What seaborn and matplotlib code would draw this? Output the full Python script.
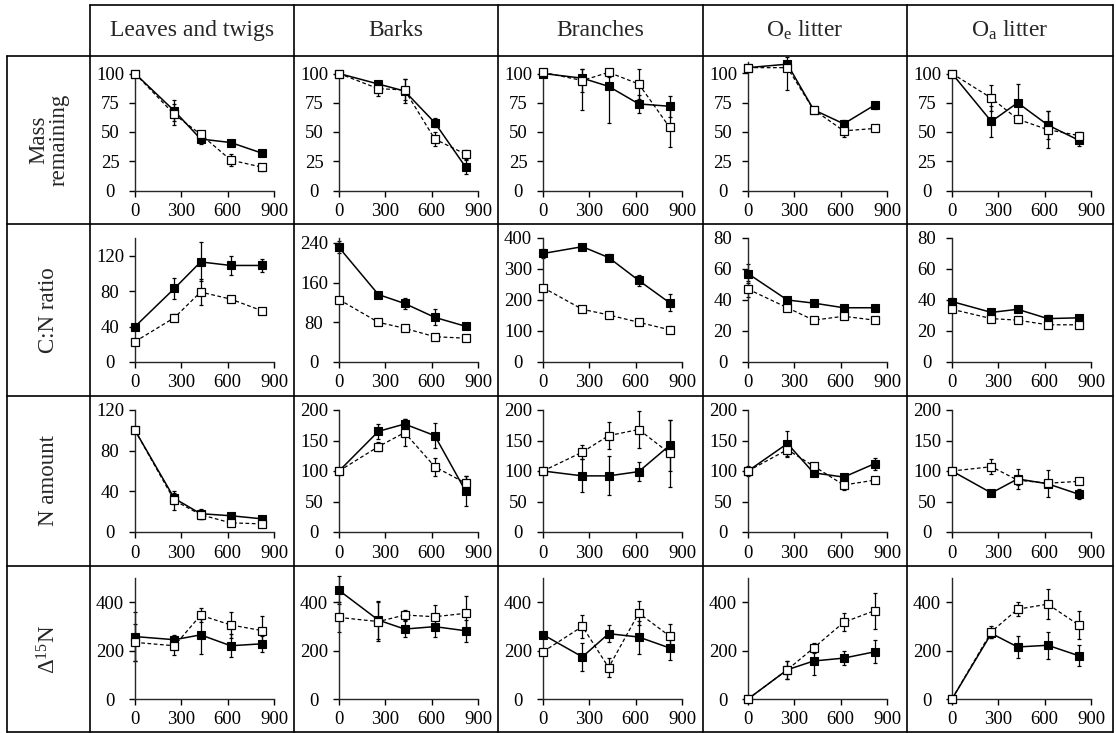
import numpy as np
import pandas as pd
import matplotlib
matplotlib.use("Agg")
import matplotlib.pyplot as plt
import seaborn as sns
from matplotlib.lines import Line2D

# ---------------- data ----------------
days = [0, 255, 425, 620, 820]
column_titles = ["Leaves and twigs", "Barks", "Branches",
                 "O$_{e}$ litter", "O$_{a}$ litter"]
row_titles = ["Mass\nremaining", "C:N ratio", "N amount", "Δ$^{15}$N"]

# Mass remaining (%)
mass_filled = [[100, 68, 44, 41, 32], [100, 91, 85, 58, 20], [100, 96, 89, 74, 72],
               [105, 108, 69, 57, 73], [100, 59, 75, 56, 43]]
mass_filled_se = [[0, 9, 4, 2, 2], [0, 3, 10, 4, 6], [0, 12, 31, 8, 9],
                  [0, 3, 2, 3, 3], [0, 13, 16, 12, 5]]
mass_open = [[100, 65, 48, 26, 20], [100, 87, 86, 44, 31], [101, 94, 101, 91, 54],
             [105, 105, 69, 51, 53], [100, 79, 61, 52, 47]]
mass_open_se = [[0, 9, 3, 5, 3], [0, 6, 9, 6, 4], [0, 25, 4, 13, 17],
                [0, 19, 2, 5, 2], [0, 11, 3, 16, 3]]

# C:N ratio
cn_filled = [[40, 83, 113, 109, 109], [231, 136, 118, 90, 72], [350, 372, 337, 263, 191],
             [57, 40, 38, 35, 35], [39, 32, 34, 28, 28.5]]
cn_filled_se = [[3, 12, 22, 11, 7], [12, 5, 12, 16, 5], [15, 5, 12, 18, 28],
                [6, 2, 2, 2, 2], [2, 2, 2, 2, 2]]
cn_open = [[23, 50, 79, 71, 58], [126, 80, 68, 51, 48], [240, 170, 152, 128, 104],
           [47, 35, 27, 29.5, 27], [34, 28, 27, 24, 24]]
cn_open_se = [[2, 4, 15, 3, 2], [3, 4, 4, 3, 3], [5, 5, 5, 5, 12],
              [5, 2, 2, 2, 1], [2, 2, 2, 2, 1]]

# N amount (%)
n_filled = [[100, 33, 18, 16, 13], [100, 165, 177, 158, 67], [100, 92, 92, 99, 142],
            [100, 145, 97, 90, 112], [100, 64, 87, 79, 62]]
n_filled_se = [[0, 5, 5, 2, 2], [0, 12, 9, 20, 24], [0, 27, 32, 15, 42],
               [8, 20, 3, 5, 10], [0, 4, 17, 22, 8]]
n_open = [[100, 31, 17, 9, 8], [100, 140, 163, 107, 80], [100, 131, 158, 168, 129],
          [100, 135, 108, 77, 85], [100, 107, 85, 80, 83]]
n_open_se = [[0, 9, 4, 2, 2], [0, 8, 22, 15, 12], [0, 12, 22, 30, 55],
             [5, 12, 3, 8, 5], [0, 12, 8, 5, 3]]

# Delta 15N
d15n_filled = [[258, 245, 265, 220, 228], [449, 326, 289, 299, 282], [266, 174, 270, 256, 211],
               [0, 121, 157, 169, 195], [0, 271, 215, 222, 179]]
d15n_filled_se = [[100, 20, 80, 47, 34], [58, 80, 32, 42, 45], [10, 58, 34, 68, 51],
                  [0, 38, 56, 30, 48], [0, 20, 47, 55, 44]]
d15n_open = [[234, 220, 346, 306, 283], [337, 320, 347, 340, 354], [195, 300, 130, 355, 260],
             [0, 121, 211, 317, 365], [0, 278, 371, 392, 306]]
d15n_open_se = [[75, 40, 28, 55, 58], [62, 80, 20, 50, 71], [10, 48, 38, 48, 51],
                [0, 38, 21, 37, 75], [0, 25, 29, 62, 59]]

y_ticks = [
    [[0, 25, 50, 75, 100]] * 5,
    [[0, 40, 80, 120], [0, 80, 160, 240], [0, 100, 200, 300, 400], [0, 20, 40, 60, 80], [0, 20, 40, 60, 80]],
    [[0, 40, 80, 120]] + [[0, 50, 100, 150, 200]] * 4,
    [[0, 200, 400]] * 5,
]
y_top = [
    [100, 100, 100, 110, 100],
    [140, 250, 400, 80, 80],
    [120, 200, 200, 200, 200],
    [500, 500, 500, 500, 500],
]
x_ticks = [0, 300, 600, 900]

rows_data = [
    (mass_filled, mass_filled_se, mass_open, mass_open_se),
    (cn_filled, cn_filled_se, cn_open, cn_open_se),
    (n_filled, n_filled_se, n_open, n_open_se),
    (d15n_filled, d15n_filled_se, d15n_open, d15n_open_se),
]

# ---------------- style ----------------
sns.set_style("ticks")
plt.rcParams["font.family"] = ["Liberation Serif", "DejaVu Serif"]
plt.rcParams["mathtext.default"] = "regular"
plt.rcParams["axes.linewidth"] = 1.0

W, H = 1116, 733
fig = plt.figure(figsize=(W / 100, H / 100), dpi=100)
fig.patch.set_facecolor("white")

def fx(px):
    return px / W

def fy(py):
    return 1 - py / H

# table geometry (pixels)
col_edges = [90, 294, 498, 703, 907, 1113]
row_edges = [5, 56, 224, 396, 566, 732]
label_left = 7
row_zero_px = [190.5, 362, 532, 699]
row_h_px = [117, 124, 122, 121]

# table lines
lw_tab = 1.2
for x in col_edges:
    fig.add_artist(Line2D([fx(x), fx(x)], [fy(row_edges[0]), fy(row_edges[-1])],
                          color="black", lw=lw_tab))
fig.add_artist(Line2D([fx(label_left), fx(label_left)], [fy(row_edges[1]), fy(row_edges[-1])],
                      color="black", lw=lw_tab))
fig.add_artist(Line2D([fx(col_edges[0]), fx(col_edges[-1])], [fy(row_edges[0]), fy(row_edges[0])],
                      color="black", lw=lw_tab))
for y in row_edges[1:]:
    fig.add_artist(Line2D([fx(label_left), fx(col_edges[-1])], [fy(y), fy(y)],
                          color="black", lw=lw_tab))

# headers
for c, title in enumerate(column_titles):
    xc = (col_edges[c] + col_edges[c + 1]) / 2
    fig.text(fx(xc), fy((row_edges[0] + row_edges[1]) / 2), title,
             ha="center", va="center", fontsize=17)
for r, title in enumerate(row_titles):
    yc = (row_edges[r + 1] + row_edges[r + 2]) / 2
    fig.text(fx((label_left + col_edges[0]) / 2), fy(yc), title, rotation=90,
             ha="center", va="center", fontsize=16.5, linespacing=0.95)

def add_errorbars(ax, mean, se, top):
    mean = np.asarray(mean, float)
    se = np.asarray(se, float)
    lower = np.clip(mean - se, 0, None)
    upper = np.minimum(mean + se, top * 1.04)
    yerr = [mean - lower, np.maximum(upper - mean, 0)]
    eb = ax.errorbar(days, mean, yerr=yerr, fmt="none", ecolor="black",
                     elinewidth=0.9, capsize=1.5, capthick=0.9, zorder=2)
    for art in eb.get_children():
        art.set_clip_on(False)

for r in range(4):
    filled, filled_se, opn, opn_se = rows_data[r]
    for c in range(5):
        top = y_top[r][c]
        ref = 100 if r == 0 else top
        h = row_h_px[r] * top / ref
        left = col_edges[c] + 45
        ax = fig.add_axes([fx(left), fy(row_zero_px[r]), 139 / W, h / H])
        ax.set_facecolor("none")
        add_errorbars(ax, filled[c], filled_se[c], top)
        add_errorbars(ax, opn[c], opn_se[c], top)
        sns.lineplot(x=days, y=filled[c], ax=ax, color="black", linewidth=1.1,
                     marker="s", markersize=6.3, markerfacecolor="black",
                     markeredgecolor="black", markeredgewidth=0.8,
                     clip_on=False, zorder=3)
        sns.lineplot(x=days, y=opn[c], ax=ax, color="black", linewidth=0.9,
                     linestyle=(0, (3, 2)), marker="s", markersize=6.3,
                     markerfacecolor="white", markeredgecolor="black",
                     markeredgewidth=0.9, clip_on=False, zorder=4)
        ax.set_xlim(0, 900)
        ax.set_ylim(0, top)
        ax.set_xticks(x_ticks)
        ax.set_yticks(y_ticks[r][c])
        ax.set_xlabel("")
        ax.set_ylabel("")
        for s in ["top", "right"]:
            ax.spines[s].set_visible(False)
        for s in ["left", "bottom"]:
            ax.spines[s].set_linewidth(1.0)
        ax.tick_params(axis="both", direction="out", length=4, width=1.0,
                       labelsize=13.5, colors="black")
        ax.tick_params(axis="y", pad=14)
        ax.tick_params(axis="x", pad=5)
        plt.setp(ax.get_yticklabels(), ha="center")

fig.savefig("out.png", dpi=100, facecolor="white")
